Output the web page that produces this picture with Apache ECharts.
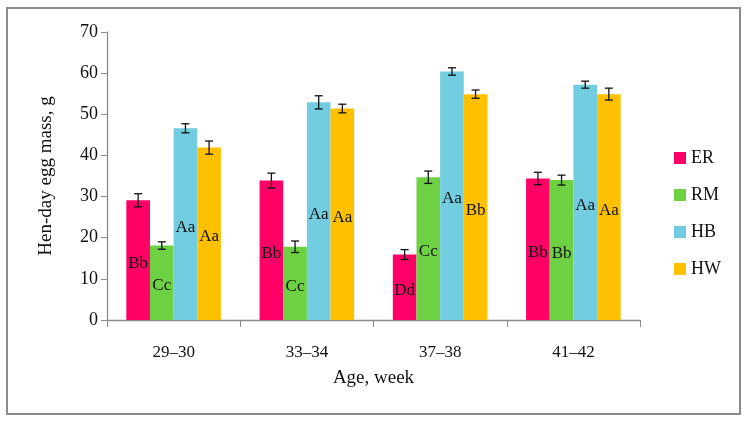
<!DOCTYPE html>
<html>
<head>
<meta charset="utf-8">
<script src="https://cdn.jsdelivr.net/npm/echarts@6/dist/echarts.min.js"></script>
<style>
html,body{margin:0;padding:0;background:#fff;}
#c{width:747px;height:422px;}
</style>
</head>
<body>
<div id="c"></div>
<script>
var categories = ['29–30', '33–34', '37–38', '41–42'];
var seriesNames = ['ER', 'RM', 'HB', 'HW'];
var ER = [29.1, 33.9, 15.9, 34.4];
var RM = [18.1, 17.8, 34.7, 34.0];
var HB = [46.6, 52.9, 60.4, 57.2];
var HW = [41.9, 51.4, 54.9, 54.9];
var ER_err = [1.6, 1.8, 1.2, 1.5];
var RM_err = [0.9, 1.4, 1.5, 1.2];
var HB_err = [1.1, 1.6, 0.9, 0.85];
var HW_err = [1.6, 1.05, 1.0, 1.45];
var ER_lbl = ['Bb', 'Bb', 'Dd', 'Bb'];
var RM_lbl = ['Cc', 'Cc', 'Cc', 'Bb'];
var HB_lbl = ['Aa', 'Aa', 'Aa', 'Aa'];
var HW_lbl = ['Aa', 'Aa', 'Bb', 'Aa'];
var yTicks = [0, 10, 20, 30, 40, 50, 60, 70];

var values = [ER, RM, HB, HW];
var errs = [ER_err, RM_err, HB_err, HW_err];
var lbls = [ER_lbl, RM_lbl, HB_lbl, HW_lbl];
var colors = ['#FF0066', '#6DD143', '#72CDE0', '#FFC000'];
var FONT = '"Liberation Serif", "DejaVu Serif", serif';
var GAP = 0.29;

var chart = echarts.init(document.getElementById('c'));
var series = [];
seriesNames.forEach(function (n, i) {
  series.push({
    name: n, type: 'bar', barGap: '0%', barCategoryGap: (GAP * 100) + '%',
    itemStyle: { color: colors[i] },
    data: values[i].map(function (v, j) { return { value: v, lbl: lbls[i][j] }; }),
    label: {
      show: true, position: 'inside', offset: [0, 3], color: '#111',
      fontFamily: FONT, fontSize: 17,
      formatter: function (p) { return p.data.lbl; }
    }
  });
});
var errData = [];
values.forEach(function (arr, i) {
  arr.forEach(function (v, j) { errData.push([j, v, errs[i][j], i]); });
});
series.push({
  type: 'custom', name: 'err', silent: true, z: 10,
  data: errData,
  encode: { x: 0, y: 1 },
  renderItem: function (params, api) {
    var j = api.value(0), v = api.value(1), e = api.value(2), k = api.value(3);
    var band = api.size([1, 0])[0];
    var groupW = band * (1 - GAP);
    var bw = groupW / 4;
    var c = api.coord([j, v]);
    var x = c[0] - groupW / 2 + (k + 0.5) * bw;
    var yHi = api.coord([j, v + e])[1];
    var yLo = api.coord([j, v - e])[1];
    var cap = 4;
    var st = { stroke: '#111', lineWidth: 1.3 };
    return {
      type: 'group', children: [
        { type: 'line', shape: { x1: x, y1: yHi, x2: x, y2: yLo }, style: st },
        { type: 'line', shape: { x1: x - cap, y1: yHi, x2: x + cap, y2: yHi }, style: st },
        { type: 'line', shape: { x1: x - cap, y1: yLo, x2: x + cap, y2: yLo }, style: st }
      ]
    };
  }
});

chart.setOption({
  animation: false,
  backgroundColor: '#fff',
  graphic: [{
    type: 'rect', shape: { x: 7, y: 8, width: 733, height: 406 },
    style: { fill: 'none', stroke: '#8c8c8c', lineWidth: 2 }, z: -1
  }],
  grid: { left: 107, right: 107, top: 32, bottom: 102 },
  legend: {
    orient: 'vertical', left: 669, top: 144,
    data: seriesNames, icon: 'rect', itemWidth: 12, itemHeight: 12, itemGap: 19,
    textStyle: { fontFamily: FONT, fontSize: 18, color: '#111' }
  },
  xAxis: {
    type: 'category', data: categories,
    name: 'Age, week', nameLocation: 'middle', nameGap: 49,
    nameTextStyle: { fontFamily: FONT, fontSize: 19, color: '#111' },
    axisLine: { lineStyle: { color: '#8c8c8c', width: 1.3 } },
    axisTick: { show: true, length: 7, lineStyle: { color: '#8c8c8c' } },
    axisLabel: { fontFamily: FONT, fontSize: 17, color: '#111', margin: 24 }
  },
  yAxis: {
    type: 'value', min: yTicks[0], max: yTicks[yTicks.length - 1], interval: 10,
    name: 'Hen-day egg mass, g', nameLocation: 'middle', nameGap: 51,
    nameTextStyle: { fontFamily: FONT, fontSize: 19, color: '#111' },
    axisLine: { show: true, lineStyle: { color: '#8c8c8c', width: 1.3 } },
    axisTick: { show: true, length: 6, lineStyle: { color: '#8c8c8c' } },
    splitLine: { show: false },
    axisLabel: { fontFamily: FONT, fontSize: 18, color: '#111', margin: 9 }
  },
  series: series
});
</script>
</body>
</html>
